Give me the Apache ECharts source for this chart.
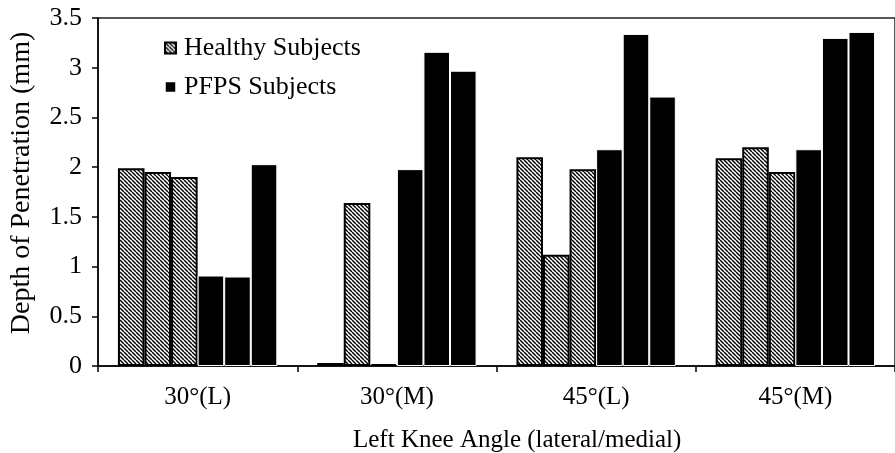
<!DOCTYPE html>
<html><head><meta charset="utf-8">
<script src="https://cdn.jsdelivr.net/npm/echarts@6/dist/echarts.min.js"></script>
<style>html,body{margin:0;padding:0;background:#fff}#c{width:895px;height:453px}</style>
</head><body><div id="c"></div>
<script>
const categories = ['30°(L)', '30°(M)', '45°(L)', '45°(M)'];
const healthyA = [1.99, 0.03, 2.10, 2.09];
const healthyB = [1.95, 1.64, 1.12, 2.20];
const healthyC = [1.90, 0.02, 1.98, 1.95];
const pfpsA = [0.91, 1.98, 2.18, 2.18];
const pfpsB = [0.90, 3.16, 3.34, 3.30];
const pfpsC = [2.03, 2.97, 2.71, 3.36];
const seriesNames = ['Healthy Subjects', 'PFPS Subjects'];
const yAxisTitle = 'Depth of Penetration (mm)';
const xAxisTitle = 'Left Knee Angle (lateral/medial)';

const FONT = 'Liberation Serif';

function hatchCanvas() {
  const s = 4, c = document.createElement('canvas');
  c.width = s; c.height = s;
  const g = c.getContext('2d');
  g.fillStyle = '#fff'; g.fillRect(0, 0, s, s);
  g.strokeStyle = '#000'; g.lineWidth = 1.4;
  for (let k = -1; k <= 1; k++) {
    g.beginPath(); g.moveTo(k * s, 0); g.lineTo(k * s + s, s); g.stroke();
  }
  return c;
}
const hatch = { image: hatchCanvas(), repeat: 'repeat' };

const healthyStyle = { color: hatch, borderColor: '#000', borderWidth: 2 };
const pfpsStyle = { color: '#000', borderColor: '#fff', borderWidth: 1 };

function bar(name, data, style) {
  return { type: 'bar', name: name, data: data, itemStyle: style, barGap: '0%', barCategoryGap: '20%', animation: false };
}

const chart = echarts.init(document.getElementById('c'), null, { renderer: 'canvas' });
chart.setOption({
  animation: false,
  grid: { left: 98, top: 18, width: 809, height: 348, show: true, borderColor: '#222', borderWidth: 1.5, backgroundColor: 'transparent' },
  legend: {
    orient: 'vertical', left: 164, top: 35, padding: 0, itemWidth: 11, itemHeight: 11, itemGap: 13,
    textStyle: { fontFamily: FONT, fontSize: 26, color: '#000', lineHeight: 26, padding: [0, 0, 0, 3] },
    data: [
      { name: seriesNames[0], icon: 'rect', itemStyle: { color: hatch, borderColor: '#000', borderWidth: 2 } },
      { name: seriesNames[1], icon: 'rect', itemStyle: { color: '#000', borderColor: '#fff', borderWidth: 1.5 } }
    ]
  },
  xAxis: {
    type: 'category', data: categories,
    axisLine: { lineStyle: { color: '#000', width: 1.5 } },
    axisTick: { show: true, length: 6, lineStyle: { color: '#000', width: 1.5 } },
    axisLabel: { fontFamily: FONT, fontSize: 25, color: '#000', margin: 19 }
  },
  yAxis: {
    type: 'value', min: 0, max: 3.5, interval: 0.5,
    splitLine: { show: false },
    axisLine: { show: true, lineStyle: { color: '#000', width: 1.5 } },
    axisTick: { show: true, length: 6, lineStyle: { color: '#000', width: 1.5 } },
    axisLabel: { fontFamily: FONT, fontSize: 26, color: '#000', margin: 16 }
  },
  graphic: [
    { type: 'text', x: 22, y: 183, rotation: Math.PI / 2,
      style: { text: yAxisTitle, font: '28px "Liberation Serif"', fill: '#000', align: 'center', verticalAlign: 'middle' } },
    { type: 'text', x: 353, y: 440,
      style: { text: xAxisTitle, font: '25px "Liberation Serif"', fill: '#000', align: 'left', verticalAlign: 'middle' } }
  ],
  series: [
    bar(seriesNames[0], healthyA, healthyStyle),
    bar(seriesNames[0], healthyB, healthyStyle),
    bar(seriesNames[0], healthyC, healthyStyle),
    bar(seriesNames[1], pfpsA, pfpsStyle),
    bar(seriesNames[1], pfpsB, pfpsStyle),
    bar(seriesNames[1], pfpsC, pfpsStyle)
  ]
});
</script>
</body></html>
